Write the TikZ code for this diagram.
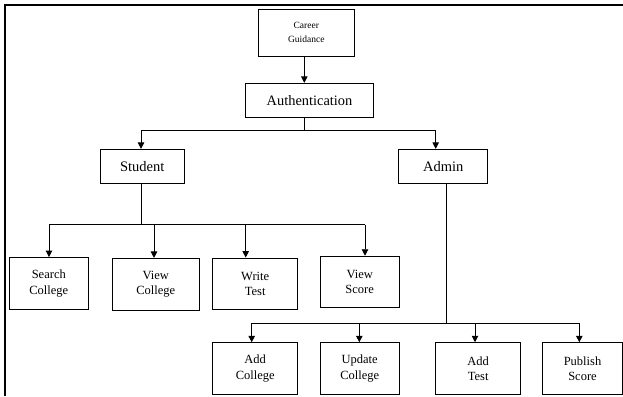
\documentclass[tikz,border=0pt]{standalone}
\usepackage{fontspec}
\setmainfont{Liberation Serif}
\usepackage{tikz}
\usetikzlibrary{arrows.meta}

\begin{document}
\begin{tikzpicture}[x=1pt,y=-1pt,
  box/.style={draw, line width=0.9pt, align=center, inner sep=0pt},
  leaf/.style={box, minimum height=51.6pt, font=\fontsize{12.5}{15.5}\selectfont},
  arr/.style={line width=0.9pt, -{Triangle[width=6.5pt,length=6.5pt]}},
  wire/.style={line width=0.9pt}]
\useasboundingbox (0,0) rectangle (623,396);
%
\draw[line width=2.2pt] (5,396) -- (5,5) -- (623,5);
%
\node[box, minimum width=96pt, minimum height=47pt, font=\fontsize{9.5}{14}\selectfont] (career) at (306.3,32.7) {Career\\Guidance};
\node[box, minimum width=127.6pt, minimum height=34pt, font=\fontsize{14.4}{17}\selectfont] (auth) at (309.5,100.3) {Authentication};
\node[box, minimum width=84.3pt, minimum height=34pt, font=\fontsize{14.5}{17}\selectfont] (stu) at (142.2,166.3) {Student};
\node[box, minimum width=89pt, minimum height=34pt, font=\fontsize{14.5}{17}\selectfont] (admin) at (443.2,166.3) {Admin};
%
\node[leaf, minimum width=79pt] (search) at (48.8,283.3) {Search\\College};
\node[leaf, minimum width=86.3pt] (viewcol) at (155.8,284.2) {View\\College};
\node[leaf, minimum width=85pt] (write) at (255.2,283.8) {Write\\Test};
\node[leaf, minimum width=79.3pt] (viewscore) at (359.7,282) {View\\Score};
%
\node[leaf, minimum width=85pt] (addcol) at (255.2,368.5) {Add\\College};
\node[leaf, minimum width=79.3pt] (update) at (359.7,368.5) {Update\\College};
\node[leaf, minimum width=85pt] (addtest) at (478.2,368.5) {Add\\Test};
\node[leaf, minimum width=80pt] (publish) at (582.5,368.5) {Publish\\Score};
%
\coordinate (topbus) at (304.3,130);
\coordinate (stubus) at (141.7,224.5);
\coordinate (adminbus) at (446.7,323.3);
%
\draw[arr] (topbus |- career.south) -- (topbus |- auth.north);
\draw[wire] (topbus |- auth.south) -- (topbus);
\draw[wire] (141,130) -- (435.7,130);
\draw[arr] (141,130) -- (141,130 |- stu.north);
\draw[arr] (435.7,130) -- (435.7,130 |- admin.north);
%
\draw[wire] (stubus |- stu.south) -- (stubus);
\draw[wire] (49,224.5) -- (365,224.5);
\foreach \xx/\nn in {49/search, 154/viewcol, 245.7/write, 365/viewscore}
  \draw[arr] (\xx,224.5) -- (\xx,224.5 |- \nn.north);
%
\draw[wire] (adminbus |- admin.south) -- (adminbus);
\draw[wire] (251.7,323.3) -- (579.3,323.3);
\foreach \xx/\nn in {251.7/addcol, 359.3/update, 475/addtest, 579.3/publish}
  \draw[arr] (\xx,323.3) -- (\xx,323.3 |- \nn.north);
%
\end{tikzpicture}
\end{document}
